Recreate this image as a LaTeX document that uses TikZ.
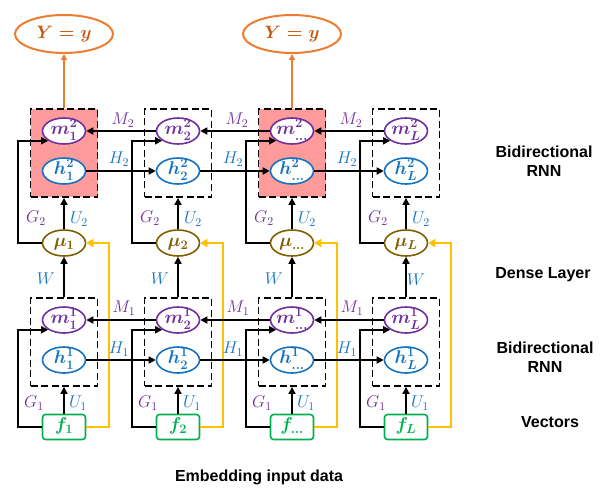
\RequirePackage{fix-cm}
\documentclass[tikz,border=0pt]{standalone}
\usepackage{amsmath}
\usepackage{fontspec}
\setsansfont{Liberation Sans}
\usetikzlibrary{arrows.meta,shapes.geometric}
\definecolor{cpurple}{HTML}{7030A0}
\definecolor{cblue}{HTML}{1573C2}
\definecolor{colive}{HTML}{7F6000}
\definecolor{cgreen}{HTML}{00B050}
\definecolor{cgold}{HTML}{FFC000}
\definecolor{corange}{HTML}{ED7D31}
\definecolor{cbrown}{HTML}{C55A11}
\definecolor{cpink}{HTML}{FF9B9B}
\newcommand{\eltxt}[1]{\makebox[0pt]{\smash{\raisebox{-0.2em}{$\boldsymbol{#1}$}}}}
\tikzset{
  arr/.style={draw=black, line width=1.6pt, -{Triangle[length=7pt,width=7pt]}},
  goldarr/.style={draw=cgold, line width=2.4pt, -{Triangle[length=7pt,width=8pt]}},
  orarr/.style={draw=corange, line width=2pt, -{Triangle[length=6pt,width=6pt]}},
  el/.style={ellipse, line width=1.6pt, fill=white, minimum width=43pt, minimum height=26pt, inner sep=0pt, font=\fontsize{18.5}{18.5}\selectfont},
  mnode/.style={el, draw=cpurple, text=cpurple},
  hnode/.style={el, draw=cblue, text=cblue},
  munode/.style={el, draw=colive, text=colive},
  fnode/.style={draw=cgreen, text=cgreen, line width=1.6pt, rounded corners=3pt, fill=white, minimum width=43pt, minimum height=25pt, inner sep=0pt, font=\fontsize{18.5}{18.5}\selectfont},
  dbox/.style={draw=black, line width=1.8pt, dash pattern=on 7pt off 3.5pt, minimum width=67pt, minimum height=88pt, inner sep=0pt},
  ynode/.style={ellipse, draw=corange, line width=2pt, minimum width=98pt, minimum height=38pt, inner sep=0pt, text=cbrown, font=\fontsize{18}{18}\selectfont},
  lab/.style={inner sep=0pt, font=\fontsize{17}{17}\selectfont},
  side/.style={inner sep=0pt, align=center, font=\fontsize{16}{19}\selectfont\sffamily\bfseries}
}
\begin{document}
\begin{tikzpicture}[x=1pt,y=-1pt]
\useasboundingbox (0,0) rectangle (607,491);
% boxes and nodes
\foreach \i/\c/\s/\fl in {1/64/1/cpink, 2/178/2/white, 3/292/\ldots/cpink, 4/406/L/white}{
  \node[dbox, fill=\fl] (bt-\i) at (\c,153) {};
  \node[dbox] (bb-\i) at (\c,342) {};
  \node[mnode] (m2-\i) at (\c,131) {\eltxt{m^{2}_{\s}}};
  \node[hnode] (h2-\i) at (\c,171) {\eltxt{h^{2}_{\s}}};
  \node[munode] (mu-\i) at (\c,243) {\eltxt{\mu_{\s}}};
  \node[mnode] (m1-\i) at (\c,320) {\eltxt{m^{1}_{\s}}};
  \node[hnode] (h1-\i) at (\c,360) {\eltxt{h^{1}_{\s}}};
  \node[fnode] (f-\i) at (\c,427) {\eltxt{f_{\s}}};
}
\node[ynode] (y-1) at (64,34) {$\boldsymbol{Y=y}$};
\node[ynode] (y-3) at (292,34) {$\boldsymbol{Y=y}$};
\draw[orarr] (bt-1.north) -- (y-1.south);
\draw[orarr] (bt-3.north) -- (y-3.south);
% connectors per column
\foreach \i in {1,2,3,4}{
  \draw[goldarr] (f-\i.east) -- ++(22.5,0) |- (mu-\i.east);
  \draw[arr] (mu-\i.north) -- (bt-\i.south);
  \draw[arr] (bb-\i.north) -- (mu-\i.south);
  \draw[arr] (f-\i.north) -- (bb-\i.south);
  \draw[arr] (mu-\i.west) -- ++(-23.5,0) |- (m2-\i.south west);
  \draw[arr] (f-\i.west) -- ++(-23.5,0) |- (m1-\i.south west);
}
\foreach \i/\j in {1/2,2/3,3/4}{
  \draw[arr] (h2-\i.east) -- (h2-\j.west);
  \draw[arr] (m2-\j.west) -- (m2-\i.east);
  \draw[arr] (h1-\i.east) -- (h1-\j.west);
  \draw[arr] (m1-\j.west) -- (m1-\i.east);
}
% labels
\foreach \i/\c in {1/64,2/178,3/292}{
  \node[lab, text=cpurple] (lm2-\i) at (\c+59,120) {$M_2$};
  \node[lab, text=cblue] (lh2-\i) at (\c+55,159) {$H_2$};
  \node[lab, text=cpurple] (lm1-\i) at (\c+60,308) {$M_1$};
  \node[lab, text=cblue] (lh1-\i) at (\c+55,349) {$H_1$};
  \node[lab, text=cblue] (lw-\i) at (\c-18,279) {$W$};
}
\node[lab, text=cblue] (lw-4) at (416,280) {$W$};
\foreach \i/\c in {1/64,2/178,3/292,4/406}{
  \node[lab, text=cpurple] (lg2-\i) at (\c-28,218) {$G_2$};
  \node[lab, text=cblue] (lu2-\i) at (\c+15,219) {$U_2$};
  \node[lab, text=cpurple] (lg1-\i) at (\c-30,403) {$G_1$};
  \node[lab, text=cblue] (lu1-\i) at (\c+14,403) {$U_1$};
}
% side labels
\node[side] (s1) at (544,161) {Bidirectional\\RNN};
\node[side] (s2) at (543,275) {Dense Layer};
\node[side] (s3) at (545,357) {Bidirectional\\RNN};
\node[side] (s4) at (550,422) {Vectors};
\node[side] (s5) at (259,477) {Embedding input data};
\end{tikzpicture}
\end{document}
